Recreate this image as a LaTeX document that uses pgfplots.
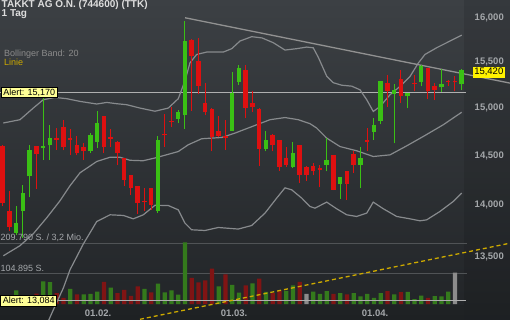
\documentclass[border=0pt]{standalone}
\usepackage{pgfplots}
\pgfplotsset{compat=1.18}
\usepackage{pgfplotstable}
\usepackage{fontspec}
\setmainfont{Liberation Sans}
\definecolor{bgtop}{RGB}{60,64,68}
\definecolor{bgbot}{RGB}{33,36,39}
\definecolor{cgreen}{RGB}{58,192,20}
\definecolor{cred}{RGB}{222,16,16}
\definecolor{vgreen}{RGB}{52,122,28}
\definecolor{vred}{RGB}{128,20,20}
\definecolor{vgray}{RGB}{140,140,140}
\definecolor{band}{RGB}{135,138,141}
\definecolor{trend}{RGB}{145,145,145}
\definecolor{lbl}{RGB}{165,168,171}
\definecolor{alertline}{RGB}{175,175,175}
\definecolor{gold}{RGB}{205,170,0}
\definecolor{alertbox}{RGB}{255,255,150}
\definecolor{titlec}{RGB}{222,222,222}
\definecolor{bbc}{RGB}{140,140,140}
\definecolor{gridc}{RGB}{80,83,86}

% candles: x = trading-day index, o h l c
\pgfplotstableread{
x o h l c
2 13727 13990 13710 13825
3 13946 14200 13680 14123
4 14291 14617 14079 14565
6 14583 15150 14462 14600
7 14610 14820 14462 14687
13 14548 14739 14531 14721
14 14651 14975 14583 14845
23 13946 14704 13923 14669
26 14891 14986 14845 14962
27 14926 15960 14785 15732
34 14764 15394 14757 15165
35 15284 15474 15255 15437
39 14575 14757 14548 14669
43 14393 14651 14382 14531
48 14410 14687 14342 14462
50 14214 14285 14066 14281
53 14410 14599 14173 14480
55 14750 14895 14669 14820
56 14869 15295 14834 15291
58 15155 15263 14631 15201
60 15129 15168 15004 15165
62 15284 15467 15237 15456
65 15226 15430 15176 15263
68 15263 15430 15193 15420
}\greens

\pgfplotstableread{
x o h l c
0 14600 14610 13990 14025
1 13945 14145 13745 13790
5 14600 14605 14166 14524
8 14687 14792 14565 14672
9 14798 14880 14558 14589
10 14687 14785 14506 14672
11 14617 14704 14506 14531
12 14599 14635 14462 14548
15 14915 14920 14531 14599
16 14693 14785 14599 14680
17 14651 14655 14410 14531
18 14480 14485 14190 14258
19 14308 14310 14106 14173
20 14190 14195 13913 14023
21 14046 14173 13939 14033
22 14173 14178 13956 14006
24 14729 14940 14599 14714
25 14869 15021 14798 14855
28 15751 15755 14975 15566
29 15518 15770 15155 15247
30 15058 15274 14926 14962
31 14997 15000 14548 14693
32 14764 14915 14693 14711
33 14704 14880 14565 14687
36 15419 15474 14904 15004
37 15058 15190 14962 15021
38 14997 15000 14403 14575
40 14721 14725 14548 14610
41 14669 14672 14349 14393
42 14480 14599 14393 14410
44 14617 14620 14224 14308
45 14393 14396 14248 14308
46 14403 14428 14301 14349
47 14376 14410 14180 14362
49 14506 14510 14150 14156
51 14342 14345 14056 14214
52 14521 14548 14325 14410
54 14669 14792 14555 14651
57 15274 15356 15021 15183
59 15320 15419 15058 15129
61 15280 15364 15183 15266
63 15437 15440 15104 15183
64 15237 15274 15093 15201
66 15298 15302 15237 15284
67 15298 15345 15183 15284
}\reds

% volumes (shares)
\pgfplotstableread{
x v
2 47000
3 30000
4 30000
6 78000
7 75000
10 52000
12 33000
13 35000
14 43000
16 56000
21 52000
23 70000
24 40000
25 46600
26 32000
27 212000
32 61000
34 66000
35 39000
37 71000
39 42000
42 45000
43 64000
46 43000
47 35000
48 44000
50 37000
52 37000
53 26000
54 35000
55 21000
56 37000
58 33000
60 42000
61 17000
62 29000
64 27000
65 26000
66 43000
}\vgreens

\pgfplotstableread{
x v
0 28000
1 25000
5 36000
8 37000
9 21000
11 33000
15 76000
17 37000
18 49000
19 28000
20 61000
22 40000
28 90000
29 74000
30 81000
31 122000
33 102000
36 64000
38 87000
40 37000
41 46000
44 76000
49 35000
51 33000
57 44000
59 41000
63 21000
}\vreds

\pgfplotstableread{
x v
45 35000
67 108000
}\vgrays

% Bollinger bands (20)
\pgfplotstableread{
x y
0.09 14845
2.56 14880
4.53 15004
6.01 15093
7.75 15118
9.48 15104
11.45 15075
13.93 15047
15.41 15064
16.89 15050
18.37 15040
20.34 15004
22.56 14970
24.53 15004
26.01 15104
27.01 15300
27.75 15496
28.74 15588
30.22 15614
32.68 15614
33.93 15652
35.16 15737
36.89 15786
38.41 15772
40.09 15718
41.82 15636
43.56 15652
45.04 15670
46.01 15661
46.76 15555
48.00 15349
48.98 15277
50.22 15250
51.70 15240
52.93 15201
53.93 15093
54.90 14968
55.90 15021
57.38 15147
58.86 15237
60.34 15345
61.57 15492
62.56 15588
64.30 15663
66.27 15737
68.00 15803
}\bbupper

\pgfplotstableread{
x y
0.09 13507
2.56 13604
4.53 13720
6.52 13877
8.49 14046
9.97 14197
11.45 14329
13.93 14444
15.90 14488
17.38 14488
18.86 14457
20.79 14452
22.56 14480
26.01 14547
27.50 14617
29.48 14680
32.44 14693
34.41 14739
37.38 14820
39.60 14880
41.82 14904
43.79 14880
45.53 14838
46.52 14792
48.00 14687
49.97 14599
52.44 14555
54.90 14496
57.38 14513
59.85 14606
62.31 14704
65.27 14827
68.00 14960
}\bbmid

\pgfplotstableread{
x y
6.71 12887
7.50 12997
8.98 13200
9.97 13373
11.94 13620
13.93 13840
15.90 13907
17.87 13900
19.35 13867
20.83 13907
22.56 14001
24.53 13999
26.01 13956
27.00 13825
27.99 13759
29.97 13752
31.94 13782
34.90 13766
36.89 13801
38.86 13923
40.59 14073
41.82 14176
42.81 14156
44.30 14073
45.53 13989
46.27 13973
48.00 14033
49.48 13966
50.96 13907
52.44 13890
53.93 13923
54.90 14033
56.39 13966
58.37 13890
60.34 13867
61.82 13847
62.81 13857
64.77 13939
66.76 14040
68.00 14123
}\bblower

\begin{document}
\begin{tikzpicture}
\path[use as bounding box] (0,0) rectangle (510bp,-320bp);
\shade[top color=bgtop, bottom color=bgbot] (0,0) rectangle (510bp,-320bp);
\fill[black, opacity=0.10] (464bp,0) rectangle (510bp,-320bp);
\fill[black, opacity=0.08] (0,-305bp) rectangle (464bp,-320bp);

% volume panel
\begin{axis}[
  at={(0,0)}, anchor=north west, scale only axis,
  width=510bp, height=320bp,
  xmin=-0.4, xmax=75.156,
  ymin=-55027, ymax=1045517,
  hide axis,
]
\addplot[gridc, line width=1bp] coordinates {(-0.4,209790) (68.8,209790)};
\addplot[gridc, line width=1bp] coordinates {(-0.4,104895) (68.8,104895)};
\addplot[ybar, bar width=4.3bp, bar shift=0pt, fill=vgreen, draw=none] table[x=x, y=v] {\vgreens};
\addplot[ybar, bar width=4.3bp, bar shift=0pt, fill=vred, draw=none] table[x=x, y=v] {\vreds};
\addplot[ybar, bar width=4.3bp, bar shift=0pt, fill=vgray, draw=none] table[x=x, y=v] {\vgrays};
\end{axis}

% price panel
\begin{axis}[
  at={(0,0)}, anchor=north west, scale only axis,
  width=510bp, height=320bp,
  xmin=-0.4, xmax=75.156,
  ymode=log, ymin=12905, ymax=16206,
  axis line style={draw=none},
  major tick length=0pt, minor tick length=0pt,
  xtick={14.12,34.27,55.16},
  xticklabels={01.02.,01.03.,01.04.},
  xticklabel style={anchor=base, inner sep=0pt, yshift=3bp,
    font=\fontsize{9.5bp}{11bp}\selectfont\bfseries, text=lbl},
  ytick={13500,14000,14500,15000,15500,16000},
  yticklabels={{13,500},{14,000},{14,500},{15,000},{15,500},{16,000}},
  yticklabel pos=right,
  yticklabel style={anchor=east, inner sep=0pt, xshift=-6bp,
    font=\fontsize{9.5bp}{11bp}\selectfont\bfseries, text=lbl},
]
% alert lines
\addplot[alertline, line width=1.4bp] coordinates {(-0.4,15170) (68.64,15170)};
\addplot[alertline, line width=1.4bp] coordinates {(-0.4,13084) (68.64,13084)};
% Bollinger band
\addplot[band, line width=1.2bp] table[x=x,y=y] {\bbupper};
\addplot[band, line width=1.2bp] table[x=x,y=y] {\bbmid};
\addplot[band, line width=1.2bp] table[x=x,y=y] {\bblower};
% trend lines
\addplot[trend, line width=1.3bp] coordinates {(27.01,16000) (75.16,15273)};
\addplot[gold, line width=1.3bp, dash pattern=on 4bp off 3bp] coordinates {(20.34,12910) (75.16,13629)};
% candles: wicks
\addplot[draw=none, mark=none, error bars/.cd, y dir=plus, y explicit, error mark=none,
  error bar style={draw=cgreen, line width=1bp, solid}]
  table[x=x, y=l, y error plus expr=\thisrow{h}-\thisrow{l}] {\greens};
\addplot[draw=none, mark=none, error bars/.cd, y dir=plus, y explicit, error mark=none,
  error bar style={draw=cred, line width=1bp, solid}]
  table[x=x, y=l, y error plus expr=\thisrow{h}-\thisrow{l}] {\reds};
% candles: bodies
\addplot[draw=none, mark=none, error bars/.cd, y dir=plus, y explicit, error mark=none,
  error bar style={draw=cgreen, line width=4.6bp, solid}]
  table[x=x, y=o, y error plus expr=\thisrow{c}-\thisrow{o}] {\greens};
\addplot[draw=none, mark=none, error bars/.cd, y dir=plus, y explicit, error mark=none,
  error bar style={draw=cred, line width=4.6bp, solid}]
  table[x=x, y=c, y error plus expr=\thisrow{o}-\thisrow{c}] {\reds};
\end{axis}

% texts
\node[anchor=base west, inner sep=0pt, text=titlec, font=\fontsize{10bp}{12bp}\selectfont\bfseries] at (1.5bp,-7.8bp) {TAKKT AG O.N. (744600) (TTK)};
\node[anchor=base west, inner sep=0pt, text=titlec, font=\fontsize{10bp}{12bp}\selectfont\bfseries] at (1.5bp,-16.8bp) {1 Tag};
\node[anchor=base west, inner sep=0pt, text=bbc, font=\fontsize{9bp}{11bp}\selectfont] at (4bp,-56bp) {Bollinger Band: 20};
\node[anchor=base west, inner sep=0pt, text=gold, font=\fontsize{9bp}{11bp}\selectfont] at (4bp,-65.5bp) {Linie};
\node[anchor=base west, inner sep=0pt, text=lbl, font=\fontsize{9bp}{11bp}\selectfont] at (0.5bp,-240.5bp) {209.790 S. / 3,2 Mio.};
\node[anchor=base west, inner sep=0pt, text=lbl, font=\fontsize{9bp}{11bp}\selectfont] at (0.5bp,-271.5bp) {104.895 S.};
\node[anchor=north west, fill=alertbox, draw=black, line width=0.7bp, inner xsep=2bp, inner ysep=0pt,
  minimum height=10.6bp, font=\fontsize{9bp}{11bp}\selectfont, text=black] at (1bp,-86.7bp) {Alert: 15,170};
\node[anchor=north west, fill=alertbox, draw=black, line width=0.7bp, inner xsep=2bp, inner ysep=0pt,
  minimum height=11bp, font=\fontsize{9bp}{11bp}\selectfont, text=black] at (0.5bp,-294.5bp) {Alert: 13,084};
\node[anchor=north east, fill=yellow, inner xsep=1.5bp, inner ysep=0pt,
  minimum height=10.6bp, font=\fontsize{9.5bp}{11bp}\selectfont, text=black] at (505bp,-66.7bp) {15,420};
\end{tikzpicture}
\end{document}
